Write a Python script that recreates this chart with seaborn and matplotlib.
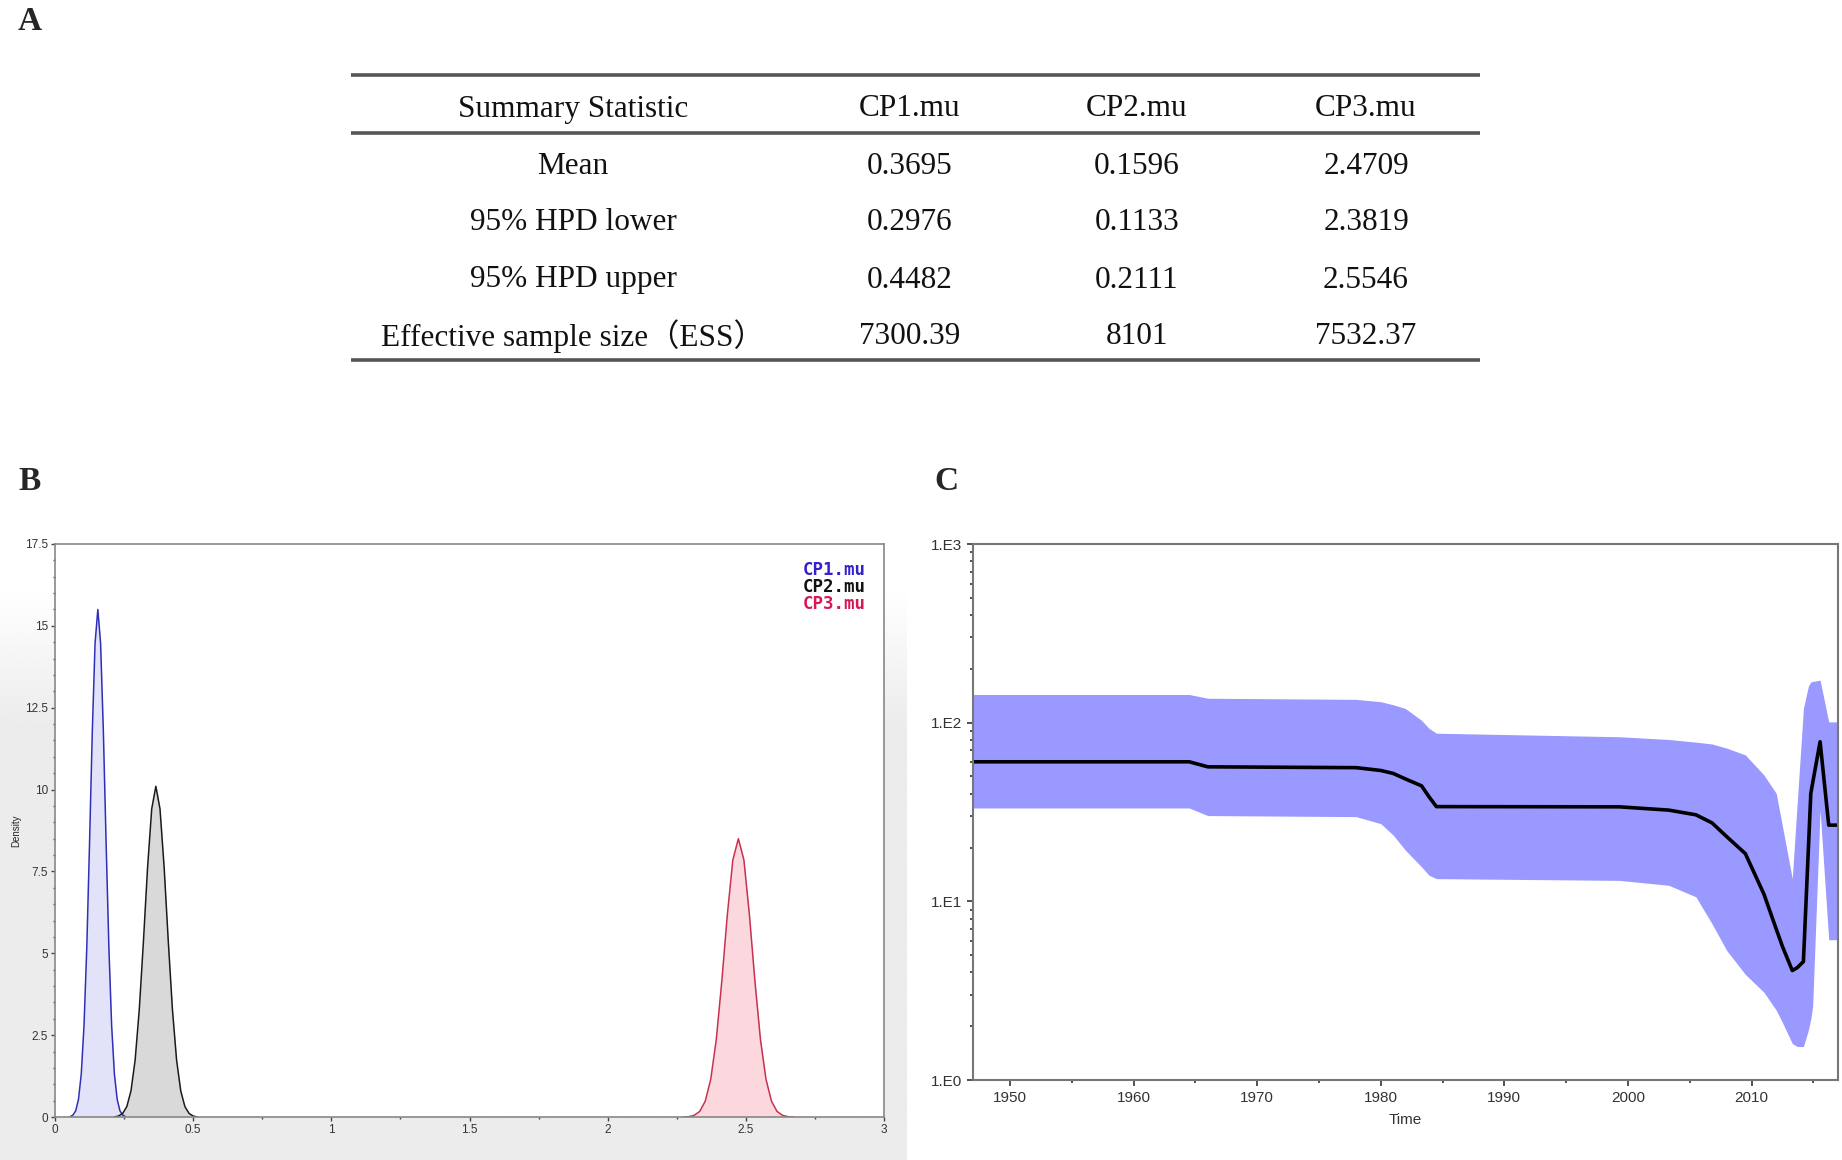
import matplotlib
matplotlib.use("Agg")
import matplotlib.pyplot as plt
import seaborn as sns
import numpy as np
import pandas as pd
from matplotlib.ticker import MultipleLocator, FixedLocator, NullFormatter, LogLocator

sns.set_style("white")
plt.rcParams['font.family'] = ['Liberation Sans', 'DejaVu Sans']

# ---- A: summary table ----
col_heads = ['Summary Statistic', 'CP1.mu', 'CP2.mu', 'CP3.mu']
row_names = ['Mean', '95% HPD lower', '95% HPD upper', 'Effective sample size（ESS）']
cp1_stats = ['0.3695', '0.2976', '0.4482', '7300.39']
cp2_stats = ['0.1596', '0.1133', '0.2111', '8101']
cp3_stats = ['2.4709', '2.3819', '2.5546', '7532.37']

# ---- B: marginal densities ----
cp1_x = [0.055, 0.065, 0.075, 0.085, 0.095, 0.105, 0.115, 0.125, 0.135, 0.145, 0.155,
         0.165, 0.175, 0.185, 0.195, 0.205, 0.215, 0.225, 0.235, 0.245, 0.255]
cp1_d = [0.01, 0.06, 0.19, 0.54, 1.31, 2.79, 5.17, 8.36, 11.78, 14.47, 15.5,
         14.47, 11.78, 8.36, 5.17, 2.79, 1.31, 0.54, 0.19, 0.06, 0.01]
cp2_x = [0.215, 0.23, 0.245, 0.26, 0.275, 0.29, 0.305, 0.32, 0.335, 0.35, 0.365,
         0.38, 0.395, 0.41, 0.425, 0.44, 0.455, 0.47, 0.485, 0.50, 0.515]
cp2_d = [0.0, 0.03, 0.11, 0.32, 0.80, 1.74, 3.28, 5.36, 7.62, 9.41, 10.1,
         9.41, 7.62, 5.36, 3.28, 1.74, 0.80, 0.32, 0.11, 0.03, 0.0]
cp3_x = [2.273, 2.293, 2.313, 2.333, 2.353, 2.373, 2.393, 2.413, 2.433, 2.453, 2.473,
         2.493, 2.513, 2.533, 2.553, 2.573, 2.593, 2.613, 2.633, 2.653, 2.673]
cp3_d = [0.0, 0.01, 0.05, 0.17, 0.48, 1.15, 2.36, 4.14, 6.17, 7.85, 8.5,
         7.85, 6.17, 4.14, 2.36, 1.15, 0.48, 0.17, 0.05, 0.01, 0.0]
density_names = ['CP1.mu', 'CP2.mu', 'CP3.mu']

# ---- C: skyline (median and 95% HPD) ----
years = [1947, 1964.5, 1966, 1978, 1980, 1981, 1982, 1983.3, 1983.9, 1984.5, 1999.3,
         2003.3, 2005.5, 2006.8, 2008.0, 2009.5, 2011.0, 2012.0, 2012.5, 2013.3, 2013.7,
         2014.2, 2014.6, 2014.8, 2014.95, 2015.55, 2016.25, 2017]
pop_median = [60.4, 60.4, 56.6, 56.0, 54.0, 52.0, 48.4, 44.3, 38.5, 33.9, 33.8,
              32.4, 30.5, 27.5, 23.0, 18.5, 11.0, 7.0, 5.6, 4.1, 4.25,
              4.6, 19.5, 40.2, 46.0, 78.2, 26.7, 26.7]
pop_lower = [33.3, 33.3, 30.2, 29.8, 27.2, 23.5, 19.3, 15.6, 14.0, 13.4, 13.1,
             12.3, 10.6, 7.5, 5.3, 3.9, 3.1, 2.46, 2.1, 1.6, 1.54,
             1.54, 1.9, 2.2, 2.6, 32.4, 6.1, 6.1]
pop_upper = [143.8, 143.8, 137.0, 135.0, 131.0, 126.0, 120.0, 103.0, 93.0, 87.3, 83.4,
             80.5, 77.8, 76.0, 72.0, 66.0, 51.0, 40.2, 26.4, 13.4, 35.6,
             120.0, 160.0, 169.0, 170.0, 173.0, 101.0, 101.0]

fig = plt.figure(figsize=(18.42, 11.6), dpi=100)
W, H = 1842, 1160

# light gray backdrop behind panel B
bg = fig.add_axes([0, 0, 0.492, 0.55], zorder=-5)
ramp = np.clip((np.linspace(0, 1, 300) - 0.10) / 0.22, 0, 1)
shade = 1 - 0.075 * ramp
bg.imshow(shade[:, None], cmap='gray', vmin=0, vmax=1, aspect='auto', extent=[0, 1, 0, 1])
bg.set_axis_off()

# panel A table
axA = fig.add_axes([0, 0.6, 1, 0.4])
axA.set_xlim(0, W)
axA.set_ylim(0.4 * H, 0)
axA.set_axis_off()
serif = ['Liberation Serif', 'Noto Sans CJK SC']
col_x = [573, 910, 1137, 1366]
row_y = [167, 223, 280, 336]
for x, h in zip(col_x, col_heads):
    axA.text(x, 109, h, ha='center', va='center', fontsize=22.5, family=serif, color='#111111')
for i, name in enumerate(row_names):
    cells = [name, cp1_stats[i], cp2_stats[i], cp3_stats[i]]
    for x, c in zip(col_x, cells):
        axA.text(x, row_y[i], c, ha='center', va='center', fontsize=22.5, family=serif,
                 color='#111111')
for y in [75, 133, 360]:
    axA.hlines(y, 351, 1480, color='#555555', lw=2.6)

fig.text(18 / W, 1 - 21 / H, 'A', fontsize=24, fontweight='bold', family='Liberation Serif', va='center')
fig.text(18 / W, 1 - 482 / H, 'B', fontsize=24, fontweight='bold', family='Liberation Serif', va='center')
fig.text(934 / W, 1 - 482 / H, 'C', fontsize=24, fontweight='bold', family='Liberation Serif', va='center')

# panel B densities
axB = fig.add_axes([55 / W, 1 - 1117 / H, (884 - 55) / W, (1117 - 544) / H])
dens = pd.DataFrame({
    'x': cp1_x + cp2_x + cp3_x,
    'density': cp1_d + cp2_d + cp3_d,
    'param': [density_names[0]] * len(cp1_x) + [density_names[1]] * len(cp2_x)
             + [density_names[2]] * len(cp3_x),
})
line_cols = {'CP1.mu': '#2f2fb8', 'CP2.mu': '#1a1a1a', 'CP3.mu': '#c8304f'}
fill_cols = {'CP1.mu': '#e2e2f8', 'CP2.mu': '#d9d9d9', 'CP3.mu': '#fad8dd'}
for name in density_names:
    sub = dens[dens.param == name]
    axB.fill_between(sub.x, 0, sub.density, color=fill_cols[name], lw=0)
sns.lineplot(data=dens, x='x', y='density', hue='param', palette=line_cols,
             estimator=None, sort=False, lw=1.1, legend=False, ax=axB)
axB.set_xlim(0, 3)
axB.set_ylim(0, 17.5)
axB.xaxis.set_major_locator(MultipleLocator(0.5))
axB.xaxis.set_minor_locator(MultipleLocator(0.25))
axB.yaxis.set_major_locator(MultipleLocator(2.5))
axB.yaxis.set_minor_locator(MultipleLocator(0.5))
axB.xaxis.set_major_formatter(plt.FuncFormatter(lambda v, p: f'{v:g}'))
axB.yaxis.set_major_formatter(plt.FuncFormatter(lambda v, p: f'{v:g}'))
axB.tick_params(which='major', direction='out', length=3, width=1, labelsize=8.5,
                color='#444444', labelcolor='#333333', pad=2, bottom=True, left=True)
axB.tick_params(which='minor', direction='out', length=1.5, width=1, color='#444444',
                bottom=True, left=True)
axB.set_xlabel('')
axB.set_ylabel('Density', fontsize=7, labelpad=3)
for s in axB.spines.values():
    s.set_color('#888888')
    s.set_linewidth(1.2)
leg_cols = ['#3322cc', '#111111', '#d81855']
for i, (name, c) in enumerate(zip(density_names, leg_cols)):
    axB.text(0.978, 0.955 - i * 0.03, name, transform=axB.transAxes, ha='right', va='center',
             fontsize=12.5, color=c, family='DejaVu Sans Mono', fontweight='bold')

# panel C skyline
axC = fig.add_axes([973 / W, 1 - 1080 / H, (1838 - 973) / W, (1080 - 544) / H])
axC.fill_between(years, pop_lower, pop_upper, color='#9999ff', lw=0)
sns.lineplot(x=years, y=pop_median, color='black', lw=2.6, estimator=None, sort=False, ax=axC)
axC.set_yscale('log')
axC.set_ylim(1, 1000)
axC.set_xlim(1947, 2017)
axC.yaxis.set_major_locator(FixedLocator([1, 10, 100, 1000]))
axC.yaxis.set_major_formatter(plt.FixedFormatter(['1.E0', '1.E1', '1.E2', '1.E3']))
axC.yaxis.set_minor_locator(LogLocator(base=10, subs=np.arange(2, 10)))
axC.yaxis.set_minor_formatter(NullFormatter())
axC.xaxis.set_major_locator(MultipleLocator(10))
axC.xaxis.set_minor_locator(MultipleLocator(5))
axC.tick_params(which='major', direction='out', length=4, width=1.2, labelsize=11,
                color='#333333', labelcolor='#333333', pad=4, bottom=True, left=True)
axC.tick_params(which='minor', direction='out', length=2, width=1.2, color='#333333',
                bottom=True, left=True)
axC.set_xlabel('Time', fontsize=11, color='#333333', labelpad=6)
axC.set_ylabel('')
for s in axC.spines.values():
    s.set_color('#777777')
    s.set_linewidth(1.5)

fig.savefig('out.png', dpi=100)
